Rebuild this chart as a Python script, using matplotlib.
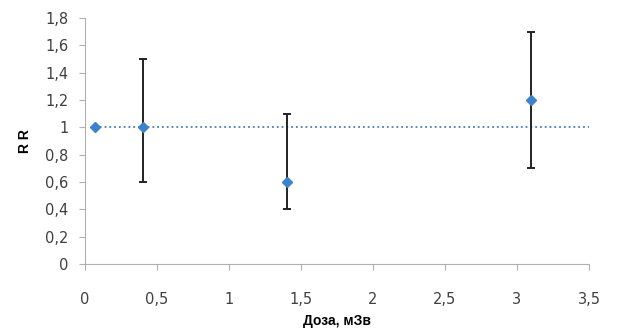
import matplotlib
matplotlib.use('Agg')
import matplotlib.pyplot as plt
from matplotlib.ticker import FuncFormatter, MultipleLocator

# data
dose = [0.07, 0.4, 1.4, 3.1]
rr = [1.0, 1.0, 0.6, 1.2]
rr_low = [1.0, 0.6, 0.4, 0.7]
rr_high = [1.0, 1.5, 1.1, 1.7]
ref_x = [0.07, 3.5]
ref_y = [1.0, 1.0]

err_lo = [v - l for v, l in zip(rr, rr_low)]
err_hi = [h - v for v, h in zip(rr, rr_high)]

fig = plt.figure(figsize=(6.18, 3.35), dpi=100)
ax = fig.add_axes([0.1375, 0.212, 0.8155, 0.734])

ax.plot(ref_x, ref_y, linestyle=':', color='#4a7ebb', linewidth=1.3, zorder=1)
ax.errorbar(dose, rr, yerr=[err_lo, err_hi], fmt='none', ecolor='#222222',
            elinewidth=1.4, capsize=3, capthick=1.4, zorder=2)
ax.plot(dose, rr, linestyle='none', marker='D', markersize=5,
        color='#3c82cc', markeredgecolor='#3c82cc', zorder=3)

ax.set_xlim(0, 3.5)
ax.set_ylim(0, 1.8)
ax.xaxis.set_major_locator(MultipleLocator(0.5))
ax.yaxis.set_major_locator(MultipleLocator(0.2))
fmt = FuncFormatter(lambda v, p: ('%g' % round(v, 2)).replace('.', ','))
ax.xaxis.set_major_formatter(fmt)
ax.yaxis.set_major_formatter(fmt)

for s in ['top', 'right']:
    ax.spines[s].set_visible(False)
for s in ['left', 'bottom']:
    ax.spines[s].set_color('#b0b0b0')
ax.tick_params(axis='both', direction='out', length=4, color='#b0b0b0',
               labelsize=10.5, labelcolor='#404040')
ax.tick_params(axis='x', pad=16)
ax.tick_params(axis='y', pad=8)
for lab in ax.get_xticklabels() + ax.get_yticklabels():
    lab.set_family('DejaVu Sans')

ax.set_xlabel('Доза, мЗв', fontfamily='Liberation Sans', fontweight='bold',
              fontsize=10, labelpad=5)
ax.set_ylabel('R R', fontfamily='Liberation Sans', fontweight='bold',
              fontsize=10, labelpad=9)

fig.savefig('out.png', dpi=100)
